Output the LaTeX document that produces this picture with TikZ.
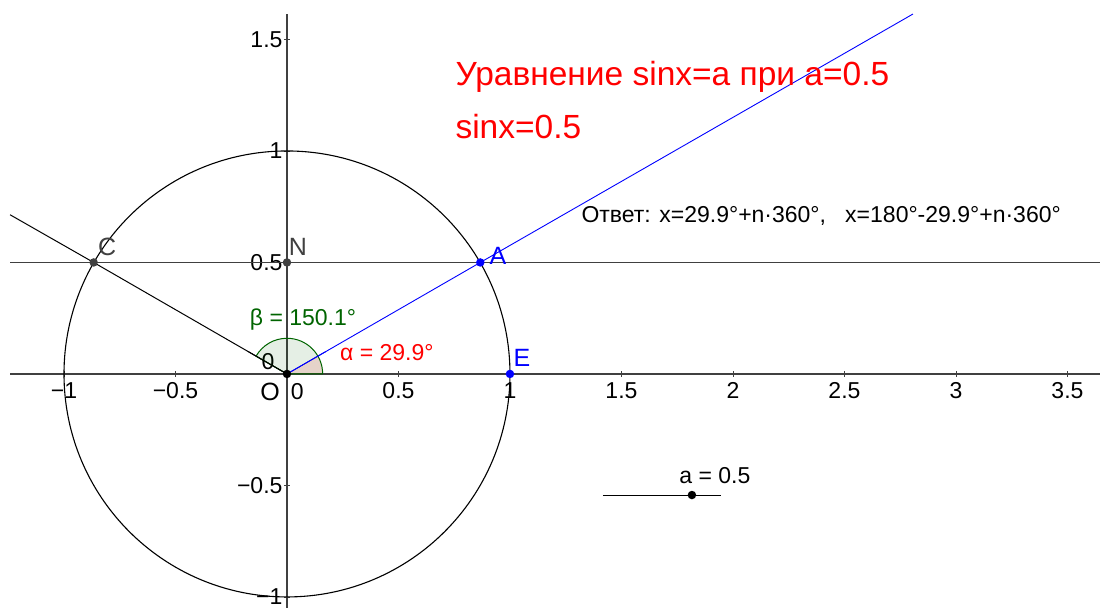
\documentclass[tikz,border=0pt]{standalone}
\usepackage{fontspec}
\setmainfont{Liberation Sans}
\usetikzlibrary{calc}
\definecolor{gred}{RGB}{255,0,0}
\definecolor{ggreen}{RGB}{0,100,0}
\definecolor{gblue}{RGB}{0,0,255}
\definecolor{ggray}{RGB}{64,64,64}

\begin{document}
\begin{tikzpicture}[
    x=223pt, y=223pt,
    every node/.style={font=\fontsize{23}{26}\selectfont},
    axis/.style={ggray, line width=1.3pt},
    dot/.style={circle, fill=#1, inner sep=0pt, minimum size=8.5pt},
    ptlabel/.style={font=\fontsize{25}{28}\selectfont},
]
    \useasboundingbox (-1.287,-1.049) rectangle (3.646,1.677);

    % Axes
    \coordinate (xl) at (-1.242,0);
    \coordinate (xr) at (3.646,0);
    \coordinate (yb) at (0,-1.049);
    \coordinate (yt) at (0,1.614);
    \draw[axis] (xl) -- (xr);
    \draw[axis] (yb) -- (yt);
    \foreach \t/\l in {-1/−1,-0.5/−0.5,0.5/0.5,1/1,1.5/1.5,2/2,2.5/2.5,3/3,3.5/3.5}
        \draw[axis, line width=0.8pt] (\t,0.012) -- (\t,-0.012)
            node[below=2pt, black] {\l};
    \foreach \t in {-1,-0.5,0.5,1,1.5}
        \draw[axis, line width=0.8pt] (-0.012,\t) -- (0.012,\t);
    \foreach \t/\l in {-1/−1,-0.5/−0.5,0.5/0.5,1/1,1.5/1.5}
        \node[left=1pt, black] at (0,\t) {\l};
    \node[black] at (0.046,-0.081) {0};
    \node[black] at (-0.085,0.054) {0};

    % Line y = a
    \coordinate (hl) at (-1.242,0.5);
    \coordinate (hr) at (3.646,0.5);
    \draw[axis] (hl) -- (hr);

    % Unit circle
    \coordinate (O) at (0,0);
    \draw[black, line width=1.1pt] (O) circle (1);

    % Points on the circle
    \coordinate (A) at (0.8669,0.5);
    \coordinate (C) at (-0.8669,0.5);
    \coordinate (N) at (0,0.5);
    \coordinate (E) at (1,0);

    % Rays
    \coordinate (bt) at (2.807,1.614);
    \coordinate (ct) at (-1.242,0.714);
    \draw[gblue, line width=0.9pt] (O) -- (A) -- (bt);
    \draw[black, line width=1pt] (O) -- (C) -- (ct);

    % Angles
    \fill[gred, opacity=0.12] (O) -- (0.16,0) arc (0:29.9:0.16) -- cycle;
    \filldraw[ggreen, fill opacity=0.1, line width=1pt]
        (O) -- (0.16,0) arc (0:150.1:0.16) -- cycle;
    \draw[gblue, line width=0.9pt] (O) -- ($(O)!0.2!(A)$);
    \draw[black, line width=1pt] (O) -- ($(O)!0.2!(C)$);
    \node[ggreen] (beta) at (0.072,0.242) {β = 150.1°};
    \node[gred] (alpha) at (0.448,0.094) {α = 29.9°};

    % Dots and labels
    \node[dot=gblue] (Adot) at (A) {};
    \node[dot=gblue] (Edot) at (E) {};
    \node[dot=ggray] (Cdot) at (C) {};
    \node[dot=ggray] (Ndot) at (N) {};
    \node[dot=black] (Odot) at (O) {};
    \node[ptlabel, gblue] at (0.946,0.529) {A};
    \node[ptlabel, gblue] at (1.054,0.072) {E};
    \node[ptlabel, ggray] at (-0.807,0.570) {C};
    \node[ptlabel, ggray] at (0.049,0.570) {N};
    \node[ptlabel, black] at (-0.076,-0.081) {O};

    % Texts
    \node[gred, anchor=west, font=\fontsize{33.5}{38}\selectfont] (title) at (0.74,1.332)
        {Уравнение sinx=a при a=0.5};
    \node[gred, anchor=west, font=\fontsize{33.5}{38}\selectfont] (eq) at (0.74,1.108)
        {sinx=0.5};
    \node[anchor=west] (answer) at (1.305,0.709)
        {Ответ: x=29.9°+n·360°,\ \ \ x=180°-29.9°+n·360°};

    % Slider
    \coordinate (sl) at (1.417,-0.543);
    \coordinate (sr) at (1.946,-0.543);
    \draw[black, line width=1pt] (sl) -- (sr);
    \node[dot=black] (sdot) at (1.816,-0.543) {};
    \node (slabel) at (1.919,-0.457) {a = 0.5};
\end{tikzpicture}
\end{document}
